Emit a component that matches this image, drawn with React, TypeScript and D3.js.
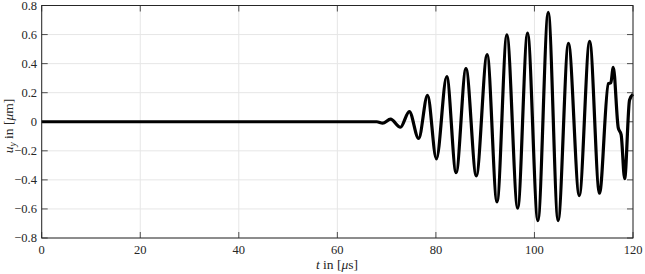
import * as d3 from "d3";

// time axis samples in microseconds
const times: number[] = [
  0, 65, 68, 69.2, 70.8, 72.8, 74.6, 76.5, 78.3, 80.1, 82.2, 84.1, 86.1, 88.2,
  90.4, 92.4, 94.4, 96.6, 98.6, 100.7, 102.8, 104.8, 106.9, 109.1, 111.2,
  113.2, 115.0, 115.5, 116.0, 117.0, 117.6, 118.3, 119.3, 120,
];
// displacement u_y in micrometres
const displacement: number[] = [
  0, 0, 0, -0.01, 0.018, -0.038, 0.07, -0.115, 0.182, -0.255, 0.31, -0.35,
  0.365, -0.372, 0.462, -0.552, 0.598, -0.595, 0.61, -0.68, 0.752, -0.68,
  0.54, -0.508, 0.553, -0.492, 0.262, 0.268, 0.375, -0.04, -0.09, -0.392,
  0.15, 0.19,
];

const xTicks = [0, 20, 40, 60, 80, 100, 120];
const yTicks = [-0.8, -0.6, -0.4, -0.2, 0, 0.2, 0.4, 0.6, 0.8];

const W = 645;
const H = 274;
const left = 41.7;
const right = 633;
const top = 5.5;
const bottom = 238;

export default function App() {
  const x = d3.scaleLinear().domain([0, 120]).range([left, right]);
  const y = d3.scaleLinear().domain([-0.8, 0.8]).range([bottom, top]);

  const points = times.map((t, i) => [t, displacement[i]] as [number, number]);
  const line = d3
    .line<[number, number]>()
    .x((d) => x(d[0]))
    .y((d) => y(d[1]))
    .curve(d3.curveMonotoneX);

  const textStyle = {
    fontFamily:
      '"Times New Roman", Times, "Liberation Serif", Tinos, "DejaVu Serif", serif',
  };
  const axisColor = "#262626";
  const tickLen = 6;

  return (
    <svg
      width={W}
      height={H}
      style={{ position: "absolute", left: 0, top: 0, display: "block" }}
    >
      <rect x={0} y={0} width={W} height={H} fill="white" />
      {/* grid */}
      <g stroke="#e6e6e6" strokeWidth={1}>
        {xTicks.map((t) => (
          <line key={"gx" + t} x1={x(t)} x2={x(t)} y1={top} y2={bottom} />
        ))}
        {yTicks.map((t) => (
          <line key={"gy" + t} x1={left} x2={right} y1={y(t)} y2={y(t)} />
        ))}
      </g>

      {/* ticks, mirrored on all sides */}
      <g stroke={axisColor} strokeWidth={0.8}>
        {xTicks.map((t) => (
          <g key={"tx" + t}>
            <line x1={x(t)} x2={x(t)} y1={bottom} y2={bottom - tickLen} />
            <line x1={x(t)} x2={x(t)} y1={top} y2={top + tickLen} />
          </g>
        ))}
        {yTicks.map((t) => (
          <g key={"ty" + t}>
            <line x1={left} x2={left + tickLen} y1={y(t)} y2={y(t)} />
            <line x1={right} x2={right - tickLen} y1={y(t)} y2={y(t)} />
          </g>
        ))}
      </g>

      <path
        d={line(points) || ""}
        fill="none"
        stroke="black"
        strokeWidth={3.2}
        strokeLinejoin="round"
      />

      <rect
        x={left}
        y={top}
        width={right - left}
        height={bottom - top}
        fill="none"
        stroke={axisColor}
        strokeWidth={1}
      />

      {/* tick labels */}
      <g fontSize={12.5} fill={axisColor}>
        {xTicks.map((t) => (
          <text key={"lx" + t} x={x(t)} y={254} textAnchor="middle" style={textStyle}>
            {t}
          </text>
        ))}
        {yTicks.map((t) => (
          <text
            key={"ly" + t}
            x={37}
            y={y(t)}
            dy="0.35em"
            textAnchor="end"
            style={textStyle}
          >
            {t === 0 ? "0" : d3.format(".1f")(t)}
          </text>
        ))}
      </g>

      {/* axis titles */}
      <text
        x={337}
        y={268.5}
        fontSize={13.5}
        textAnchor="middle"
        fill={axisColor}
        style={textStyle}
      >
        <tspan fontStyle="italic">t</tspan>
        <tspan> in [</tspan>
        <tspan fontStyle="italic">μ</tspan>
        <tspan>s]</tspan>
      </text>
      <text
        transform={`translate(13,126) rotate(-90)`}
        fontSize={13.5}
        textAnchor="middle"
        fill={axisColor}
        style={textStyle}
      >
        <tspan fontStyle="italic">u</tspan>
        <tspan fontStyle="italic" fontSize={9.5} dy={2.5}>
          y
        </tspan>
        <tspan dy={-2.5}> in [</tspan>
        <tspan fontStyle="italic">μ</tspan>
        <tspan>m]</tspan>
      </text>
    </svg>
  );
}
